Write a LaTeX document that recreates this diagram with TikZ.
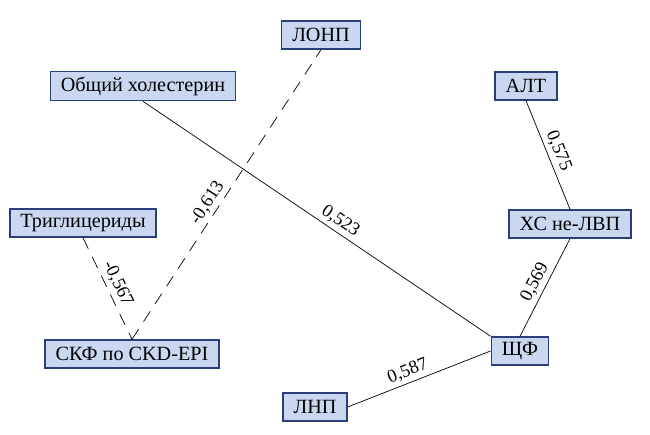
\documentclass[tikz,border=0pt]{standalone}
\usepackage{fontspec}
\setmainfont{Liberation Serif}
\definecolor{boxfill}{HTML}{C9D7F0}
\definecolor{boxline}{HTML}{2A3F7A}
\tikzset{
  factor/.style={draw=boxline,fill=boxfill,thick,inner xsep=6pt,inner ysep=3pt,minimum height=0.56cm,font=\fontsize{11.5}{13}\selectfont},
  link/.style={black,thin},
  neg/.style={black,thin,dash pattern=on 7pt off 5pt},
  coef/.style={sloped,above,font=\fontsize{10.5}{12}\selectfont,inner sep=2pt}
}
\begin{document}
\begin{tikzpicture}[x=0.02cm,y=-0.02cm]
\useasboundingbox (0,0) rectangle (650,435);

\node[factor] (lonp) at (321,35) {ЛОНП};
\node[factor] (chol) at (143,86) {Общий холестерин};
\node[factor] (alt) at (526,86) {АЛТ};
\node[factor] (tg) at (83,223) {Триглицериды};
\node[factor] (nonhdl) at (570,224) {ХС не-ЛВП};
\node[factor] (gfr) at (132,354) {СКФ по CKD-EPI};
\node[factor] (alp) at (520,351) {ЩФ};
\node[factor] (ldl) at (315,407) {ЛНП};

% correlations
\draw[neg] (gfr.north) -- node[coef,pos=0.45] {-0,613} (lonp.south);
\draw[neg] (tg.south) -- node[coef,pos=0.5] {-0,567} (gfr.north);
\draw[link] (chol.south) -- node[coef,pos=0.55] {0,523} (alp.north west);
\draw[link] (alt.south) -- node[coef,pos=0.5] {0,575} (nonhdl.north);
\draw[link] (alp.north) -- node[coef,pos=0.5] {0,569} (nonhdl.south);
\draw[link] (ldl.east) -- node[coef,pos=0.45] {0,587} (alp.west);
\end{tikzpicture}
\end{document}
